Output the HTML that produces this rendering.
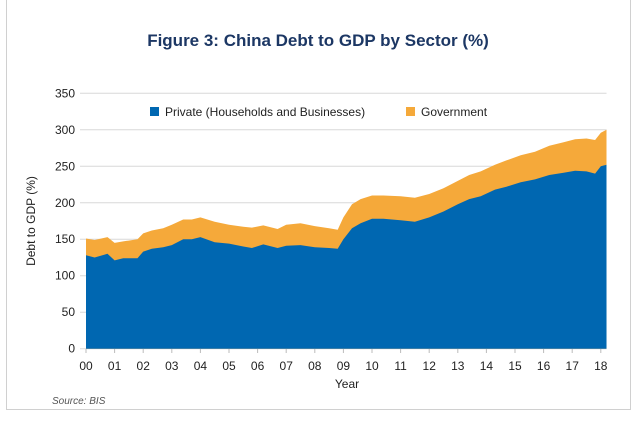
<!DOCTYPE html>
<html><head><meta charset="utf-8"><style>
body{margin:0;background:#fff;width:636px;height:417px;overflow:hidden;font-family:"Liberation Sans",sans-serif}
</style></head><body>
<svg id="s" width="636" height="417" xmlns="http://www.w3.org/2000/svg" font-family="Liberation Sans, sans-serif">
<line x1="6.5" y1="0" x2="6.5" y2="409" stroke="#d0d0d0"/>
<line x1="630.5" y1="0" x2="630.5" y2="409" stroke="#d0d0d0"/>
<line x1="6" y1="409.5" x2="631" y2="409.5" stroke="#d0d0d0"/>
<text x="318" y="46" text-anchor="middle" font-size="17" font-weight="bold" fill="#1c3764">Figure 3: China Debt to GDP by Sector (%)</text>
<g id="grid" stroke="#d8d8d8" stroke-width="1"></g>
<path id="gov" fill="#f5a93a"/>
<path id="pri" fill="#0067b1"/>
<g id="yl" font-size="12" fill="#222" text-anchor="end"></g>
<g id="xl" font-size="12" fill="#222" text-anchor="middle"></g>
<text x="347" y="388" text-anchor="middle" font-size="12" fill="#222">Year</text>
<text transform="translate(35,221) rotate(-90)" text-anchor="middle" font-size="12" fill="#222">Debt to GDP (%)</text>
<rect x="150" y="107" width="9" height="9" fill="#0067b1"/>
<text x="165" y="116" font-size="12" fill="#222">Private (Households and Businesses)</text>
<rect x="406" y="107" width="9" height="9" fill="#f5a93a"/>
<text x="421" y="116" font-size="12" fill="#222">Government</text>
<text x="52" y="404" font-size="10" font-style="italic" fill="#555">Source: BIS</text>
</svg>
<script>
var d=[[0,128,151],[0.3,125,149],[0.75,130,153],[1,121,145],[1.3,124,147],[1.8,124,150],[2,133,158],[2.3,137,162],[2.7,139,165],[3,142,170],[3.4,150,177],[3.7,150,177],[4,153,180],[4.5,146,174],[5,144,170],[5.5,140,167],[5.8,138,166],[6.2,143,169],[6.7,138,164],[7,141,170],[7.5,142,172],[8,139,168],[8.5,138,165],[8.8,137,163],[9,150,180],[9.3,165,198],[9.6,172,205],[10,178,210],[10.4,178,210],[11,176,209],[11.5,174,207],[12,180,212],[12.5,188,220],[13,198,230],[13.4,205,238],[13.8,209,243],[14.3,218,252],[14.7,222,258],[15.2,228,265],[15.7,232,270],[16.2,238,278],[16.7,241,283],[17.1,244,287],[17.5,243,288],[17.8,240,286],[18,250,296],[18.2,252,300]];
function X(t){return 86+t*28.6}function Y(v){return 348.7-v*0.7297}
var x1=X(18.2);
function path(i){var p="M86,"+Y(0);d.forEach(function(r){p+=" L"+X(r[0]).toFixed(1)+","+Y(r[i]).toFixed(1)});return p+" L"+x1+","+Y(0)+" Z";}
document.getElementById("gov").setAttribute("d",path(2));
document.getElementById("pri").setAttribute("d",path(1));
var g=document.getElementById("grid"),yl=document.getElementById("yl"),xl=document.getElementById("xl"),ns="http://www.w3.org/2000/svg";
for(var v=0;v<=350;v+=50){var l=document.createElementNS(ns,"line");l.setAttribute("x1",80);l.setAttribute("x2",x1);l.setAttribute("y1",Y(v));l.setAttribute("y2",Y(v));g.appendChild(l);
var t=document.createElementNS(ns,"text");t.setAttribute("x",75);t.setAttribute("y",Y(v)+4);t.textContent=v;yl.appendChild(t);}
for(var y=0;y<=18;y++){var t=document.createElementNS(ns,"text");t.setAttribute("x",X(y));t.setAttribute("y",370);t.textContent=(y<10?"0":"")+y;xl.appendChild(t);
var k=document.createElementNS(ns,"line");k.setAttribute("x1",X(y));k.setAttribute("x2",X(y));k.setAttribute("y1",349);k.setAttribute("y2",353);k.setAttribute("stroke","#bbb");g.appendChild(k);}
</script>
</body></html>
